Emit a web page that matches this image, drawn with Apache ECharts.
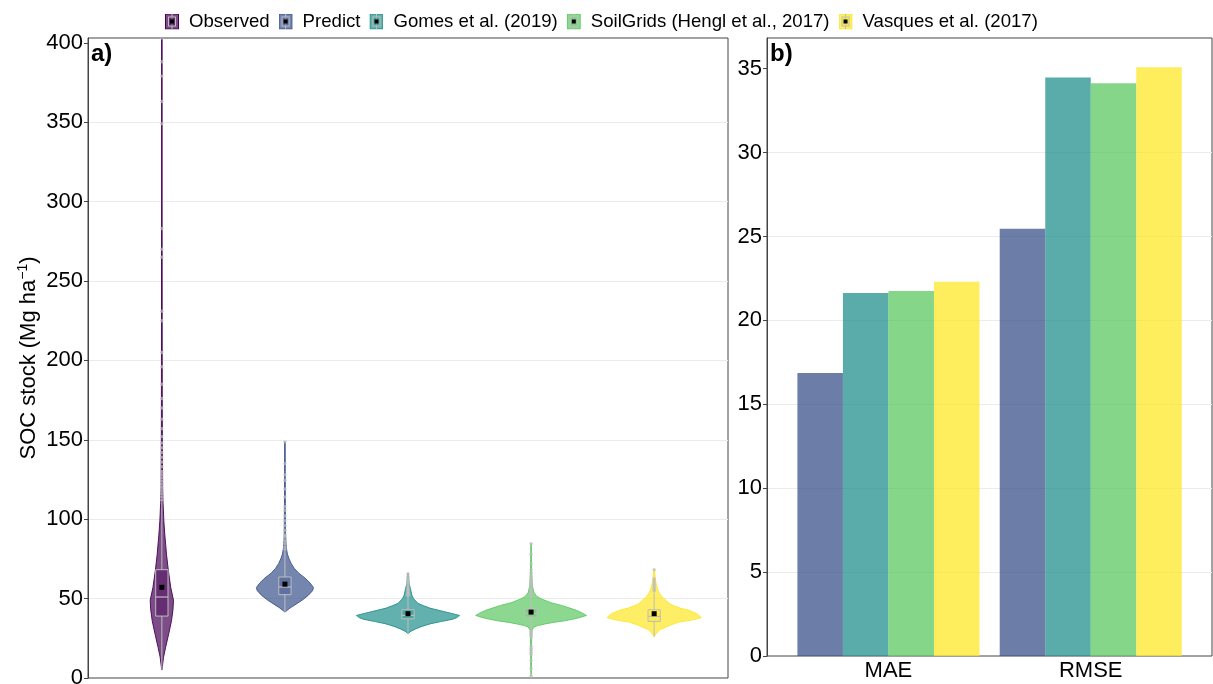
<!DOCTYPE html>
<html>
<head>
<meta charset="utf-8">
<script src="https://cdn.jsdelivr.net/npm/echarts@6/dist/echarts.min.js"></script>
<style>
  html, body { margin: 0; padding: 0; background: #ffffff; }
  #chart { width: 1213px; height: 684px; }
</style>
</head>
<body>
<div id="chart"></div>
<script>
// Sources compared in both panels
const groups = ['Observed', 'Predict', 'Gomes et al. (2019)', 'SoilGrids (Hengl et al., 2017)', 'Vasques et al. (2017)'];
const groupColors = ['#440154', '#3B528B', '#21908C', '#5DC863', '#FDE725'];

// Tick labels
const socTicks = [0, 50, 100, 150, 200, 250, 300, 350, 400];
const errTicks = [0, 5, 10, 15, 20, 25, 30, 35];

// Violin density profiles: [SOC stock, relative density (100 = widest)], top to bottom
const violinObserved = [[403, 0.5], [300, 0.5], [200, 0.7], [150, 0.9], [120, 1.4], [110, 2.2], [99, 3.6], [90, 5.4], [78, 8.4], [68, 11.6], [57, 16.1], [49, 21], [43, 20.1], [36, 17.4], [28, 12.5], [19, 6.6], [13, 3], [7, 0.9], [5, 0]];
const violinPredict = [[148.7, 0.5], [130, 0.6], [110, 0.8], [90, 1.2], [82, 2.5], [78, 4.5], [75, 7.5], [72, 11.5], [69, 17], [66, 25], [63, 36], [60, 45], [57, 51.5], [55, 50], [52, 42], [49, 31], [46.5, 20], [44, 9], [41.5, 0]];
const violinGomes = [[65.7, 0.5], [60, 1.8], [56, 4.5], [52, 7.2], [50, 9.9], [47, 17.9], [45.7, 26.9], [44, 39.4], [42.6, 55.6], [41, 75], [39.4, 93], [38, 87.8], [37, 80.6], [35.5, 59.1], [34.2, 41.2], [32.5, 25.1], [31, 14.3], [29.5, 5.4], [28, 0]];
const violinSoilGrids = [[84.6, 0.5], [75, 0.7], [65, 1.2], [58, 2.5], [54, 5], [51.5, 10], [49.9, 18], [47.5, 35], [45.7, 55], [44, 70], [42.6, 82], [41, 92], [39.4, 100], [38, 87], [37, 75], [36, 60], [35, 40], [34, 25], [33, 12], [32, 5], [30, 1.5], [25, 1], [15, 0.8], [5, 0.6], [1.1, 0]];
const violinVasques = [[68.2, 0.5], [62, 2.2], [58, 4.5], [55, 7.2], [53, 10.2], [51, 14.3], [49, 21], [47, 26.9], [45.7, 34], [44, 46.6], [42.6, 62.7], [40.5, 77], [38, 85.1], [36.5, 68.1], [35.2, 44.8], [33.5, 30.5], [32, 21], [30.5, 10.8], [29, 5.9], [27, 1.8], [26, 0]];

// Box statistics: [lower whisker, Q1, median, Q3, upper whisker]
const boxObserved = [5.2, 39, 51, 68.2, 111];
const boxPredict = [41.5, 52.5, 57.3, 63.6, 80];
const boxGomes = [28, 37.3, 39.4, 43, 51.5];
const boxSoilGrids = [30.3, 38.3, 40.5, 43.6, 51.6];
const boxVasques = [26, 35.6, 38.8, 43, 54];

// Group means
const socMeans = [57.1, 59.1, 40.5, 41.5, 40.5];

// Outlying observations
const outObserved = [403, 388, 379, 363, 349, 283, 270, 265, 231, 225, 205, 196, 185, 176, 170, 163, 157, 152, 148, 145, 142, 139, 136, 133, 130, 128, 126, 124, 122, 120, 118, 116, 114, 112];
const outPredict = [148.7, 135, 128, 124.5, 119, 114, 108, 105.6, 102, 99, 96, 93, 90, 88.8, 86.5, 84.6, 82.5, 81];
const outGomes = [65.7, 64, 63, 62, 61, 60, 59, 58, 57, 56, 55.5, 55, 54, 53.5, 53, 52.5, 52];
const outSoilGrids = [84.6, 78, 72, 68, 66, 64, 62, 61, 60, 59, 58, 57, 56, 55, 54, 53, 52, 29.5, 28.5, 27.5, 26.5, 25.5, 20, 18.5, 17.5, 16, 15, 11, 6, 1.1];
const outVasques = [68.2, 62.5, 61.5, 60.5, 59.5, 58.5, 57.5, 56.5, 55.5, 55];

// Prediction error metrics
const metrics = ['MAE', 'RMSE'];
const errPredict = [16.86, 25.46];
const errGomes = [21.63, 34.48];
const errSoilGrids = [21.75, 34.13];
const errVasques = [22.30, 35.08];

const profiles = [violinObserved, violinPredict, violinGomes, violinSoilGrids, violinVasques];
const boxes = [boxObserved, boxPredict, boxGomes, boxSoilGrids, boxVasques];
const outliers = [outObserved, outPredict, outGomes, outSoilGrids, outVasques];
const errors = [null, errPredict, errGomes, errSoilGrids, errVasques];

const FONT = "'Liberation Sans', Arial, Helvetica, sans-serif";
const HALF_MAX = 0.45;   // half of the violin width, in category units
const BOX_W = 0.1;
const WHISKER = '#bdbdbd';

function rgba(hex, a) {
  const n = parseInt(hex.slice(1), 16);
  return 'rgba(' + (n >> 16) + ',' + ((n >> 8) & 255) + ',' + (n & 255) + ',' + a + ')';
}

function legendIcon(color) {
  const svg = "<svg xmlns='http://www.w3.org/2000/svg' width='14' height='16'>" +
    "<rect x='0.5' y='0.5' width='13' height='15' fill='" + color + "' fill-opacity='0.7' stroke='" + color + "'/>" +
    "<line x1='7' y1='0' x2='7' y2='16' stroke='#bdbdbd'/>" +
    "<rect x='3.5' y='3.5' width='7' height='9' fill='" + color + "' fill-opacity='0.45' stroke='#bdbdbd'/>" +
    "<rect x='5' y='6' width='4' height='4' fill='#000'/></svg>";
  return 'image://data:image/svg+xml;charset=utf-8,' + encodeURIComponent(svg);
}

function violinRenderer(gi) {
  return function (params, api) {
    const xc = gi + 1;
    const color = groupColors[gi];
    const prof = profiles[gi];
    const pts = [];
    prof.forEach(function (p) { pts.push(api.coord([xc + p[1] / 100 * HALF_MAX, p[0]])); });
    prof.slice().reverse().forEach(function (p) { pts.push(api.coord([xc - p[1] / 100 * HALF_MAX, p[0]])); });
    const b = boxes[gi];
    const tl = api.coord([xc - BOX_W / 2, b[3]]);
    const br = api.coord([xc + BOX_W / 2, b[1]]);
    const med1 = api.coord([xc - BOX_W / 2, b[2]]);
    const med2 = api.coord([xc + BOX_W / 2, b[2]]);
    const wLo = api.coord([xc, b[0]]);
    const q1 = api.coord([xc, b[1]]);
    const q3 = api.coord([xc, b[3]]);
    const wHi = api.coord([xc, b[4]]);
    const children = [
      { type: 'polygon', shape: { points: pts }, style: { fill: rgba(color, 0.7), stroke: color, lineWidth: 0.9 } },
      { type: 'line', shape: { x1: q3[0], y1: q3[1], x2: wHi[0], y2: wHi[1] }, style: { stroke: WHISKER, lineWidth: 1 } },
      { type: 'line', shape: { x1: q1[0], y1: q1[1], x2: wLo[0], y2: wLo[1] }, style: { stroke: WHISKER, lineWidth: 1 } }
    ];
    outliers[gi].forEach(function (v) {
      const c = api.coord([xc, v]);
      children.push({ type: 'circle', shape: { cx: c[0], cy: c[1], r: 1.7 }, style: { fill: 'rgba(190,190,190,0.75)' } });
    });
    children.push({ type: 'rect', shape: { x: tl[0], y: tl[1], width: br[0] - tl[0], height: br[1] - tl[1] },
      style: { fill: rgba(color, 0.4), stroke: WHISKER, lineWidth: 1 } });
    children.push({ type: 'line', shape: { x1: med1[0], y1: med1[1], x2: med2[0], y2: med2[1] }, style: { stroke: WHISKER, lineWidth: 1.2 } });
    const m = api.coord([xc, socMeans[gi]]);
    children.push({ type: 'rect', shape: { x: m[0] - 2.5, y: m[1] - 2.5, width: 5, height: 5 }, style: { fill: '#000' } });
    return { type: 'group', children: children };
  };
}

const axisLabelStyle = { fontFamily: FONT, fontSize: 22, color: '#000', margin: 5 };

const series = [];
groups.forEach(function (name, gi) {
  series.push({
    name: name, type: 'custom', xAxisIndex: 0, yAxisIndex: 0,
    renderItem: violinRenderer(gi), data: [[gi + 1, socMeans[gi]]],
    itemStyle: { color: groupColors[gi] }, silent: true, clip: true
  });
});
groups.forEach(function (name, gi) {
  if (!errors[gi]) return;
  series.push({
    name: name, type: 'bar', xAxisIndex: 2, yAxisIndex: 2,
    data: errors[gi], barGap: '0%', barCategoryGap: '10%',
    itemStyle: { color: rgba(groupColors[gi], 0.75) }, silent: true
  });
});

const chart = echarts.init(document.getElementById('chart'), null, { renderer: 'canvas' });
chart.setOption({
  animation: false,
  backgroundColor: '#ffffff',
  textStyle: { fontFamily: FONT },
  legend: {
    top: 7, left: 160, itemWidth: 14, itemHeight: 16, itemGap: 9,
    textStyle: { fontFamily: FONT, fontSize: 18.6, color: '#000', padding: [0, 0, 0, 5] },
    data: groups.map(function (g, i) { return { name: g, icon: legendIcon(groupColors[i]) }; })
  },
  grid: [
    { left: 88, top: 38, width: 640, height: 640, show: true, borderColor: '#444', borderWidth: 1, outerBoundsMode: 'none', containLabel: false },
    { left: 767, top: 38, width: 445, height: 618, show: true, borderColor: '#444', borderWidth: 1, outerBoundsMode: 'none', containLabel: false },
    { left: 787.3, top: 38, width: 404.6, height: 618, outerBoundsMode: 'none', containLabel: false }
  ],
  xAxis: [
    { gridIndex: 0, type: 'value', min: 0.4, max: 5.6, show: false },
    { gridIndex: 1, type: 'value', min: 0, max: 1, show: false },
    { gridIndex: 2, type: 'category', data: metrics, axisLine: { show: false }, axisTick: { show: false },
      axisLabel: { fontFamily: FONT, fontSize: 22, color: '#000', margin: 4 } }
  ],
  yAxis: [
    { gridIndex: 0, type: 'value', min: 0, max: 403, interval: 50,
      name: 'SOC stock (Mg ha{sup|−1})', nameLocation: 'middle', nameGap: 46, nameRotate: 90, nameMoveOverlap: false,
      nameTextStyle: { fontFamily: FONT, fontSize: 22, color: '#000',
        rich: { sup: { fontFamily: FONT, fontSize: 14, color: '#000', padding: [0, 0, 12, 0] } } },
      axisLine: { show: true, lineStyle: { color: '#444', width: 1 } },
      axisTick: { show: true, length: 4, lineStyle: { color: '#444' }, customValues: socTicks },
      axisLabel: Object.assign({ customValues: socTicks }, axisLabelStyle),
      splitLine: { show: true, showMaxLine: false, showMinLine: false, lineStyle: { color: '#ebebeb', width: 1 } } },
    { gridIndex: 1, type: 'value', min: 0, max: 36.83, interval: 5,
      axisLine: { show: true, lineStyle: { color: '#444', width: 1 } },
      axisTick: { show: true, length: 4, lineStyle: { color: '#444' }, customValues: errTicks },
      axisLabel: Object.assign({ customValues: errTicks }, axisLabelStyle),
      splitLine: { show: true, showMaxLine: false, showMinLine: false, lineStyle: { color: '#ebebeb', width: 1 } } },
    { gridIndex: 2, type: 'value', min: 0, max: 36.83, show: false }
  ],
  graphic: [
    { type: 'text', left: 91, top: 42, style: { text: 'a)', fontFamily: FONT, fontSize: 24, fontWeight: 'bold', fill: '#000' } },
    { type: 'text', left: 770, top: 42, style: { text: 'b)', fontFamily: FONT, fontSize: 24, fontWeight: 'bold', fill: '#000' } }
  ],
  series: series
});
</script>
</body>
</html>
